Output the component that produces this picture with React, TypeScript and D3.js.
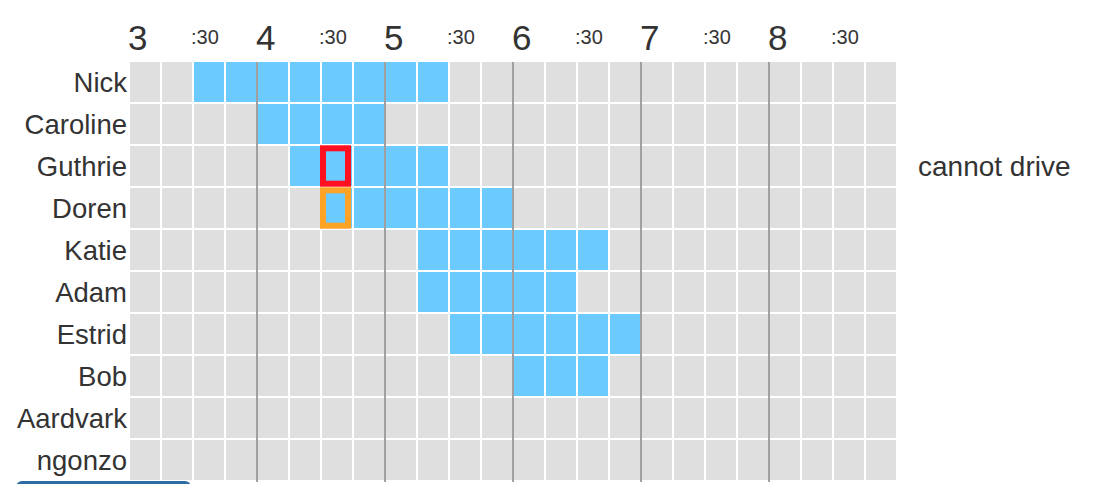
import { useEffect, useRef } from "react"
import * as d3 from 'd3';

const names = ['Nick', 'Caroline', 'Guthrie', 'Doren', 'Katie', 'Adam', 'Estrid', 'Bob', 'Aardvark', 'ngonzo'];
// available from / until (hours, pm)
const availStart = [3.5, 4, 4.25, 4.5, 5.25, 5.25, 5.5, 6, null, null];
const availEnd = [5.5, 5, 5.5, 6, 6.75, 6.5, 7, 6.75, null, null];
const slotTimes = d3.range(3, 9, 0.25);
const hourLabels = ['3', '4', '5', '6', '7', '8'];
const halfLabel = ':30';
// picked slots: [name, time, colour]
const picks = [['Guthrie', 4.5, '#ff1020'], ['Doren', 4.5, '#ffa326']];
const noteRow = 'Guthrie';
const noteText = 'cannot drive';

const W = 1106, H = 484;

const App = () => {
  const svgRef = useRef();

  useEffect(() => {
    const svg = d3.select(svgRef.current);
    svg.selectAll('*').remove();

    const x = d3.scaleLinear().domain([3, 9]).range([130, 898]);
    const y = d3.scaleBand().domain(names).range([62, 480]).paddingInner(2 / 42).paddingOuter(0);
    const cellW = x(3.25) - x(3) - 2;
    const font = "'Liberation Sans', Arial, Helvetica, sans-serif";

    const cells = [];
    names.forEach((n, i) => {
      slotTimes.forEach(t => {
        const on = availStart[i] != null && t >= availStart[i] && t < availEnd[i];
        cells.push({ n, t, on });
      });
    });

    svg.append('g').selectAll('rect')
      .data(cells)
      .enter()
      .append('rect')
      .attr('x', d => x(d.t))
      .attr('y', d => y(d.n))
      .attr('width', cellW)
      .attr('height', y.bandwidth())
      .attr('fill', d => d.on ? '#6bcbff' : '#dfdfdf');

    // hour lines
    svg.append('g').selectAll('rect')
      .data(d3.range(4, 9))
      .enter()
      .append('rect')
      .attr('x', d => x(d) - 2)
      .attr('y', 62)
      .attr('width', 2)
      .attr('height', 420)
      .attr('fill', '#a0a0a0');

    // picked boxes
    svg.append('g').selectAll('rect')
      .data(picks)
      .enter()
      .append('rect')
      .attr('x', d => x(d[1]) + 1)
      .attr('y', d => y(d[0]) + 2.3)
      .attr('width', cellW - 5)
      .attr('height', y.bandwidth() - 4.6)
      .attr('fill', 'none')
      .attr('stroke', d => d[2])
      .attr('stroke-width', 6);

    // header
    const head = svg.append('g').attr('font-family', font).attr('fill', '#333');
    head.selectAll('text.hr')
      .data(hourLabels)
      .enter()
      .append('text')
      .attr('class', 'hr')
      .attr('x', d => x(+d) - 2)
      .attr('y', 50)
      .attr('font-size', 35)
      .text(d => d);
    head.selectAll('text.half')
      .data(hourLabels)
      .enter()
      .append('text')
      .attr('class', 'half')
      .attr('x', d => x(+d + 0.5) - 3)
      .attr('y', 44)
      .attr('font-size', 20)
      .text(halfLabel);

    // names
    svg.append('g').selectAll('text')
      .data(names)
      .enter()
      .append('text')
      .attr('x', 127)
      .attr('y', d => y(d) + 29.5)
      .attr('text-anchor', 'end')
      .attr('font-family', font)
      .attr('font-size', 27.5)
      .attr('fill', '#333')
      .text(d => d);

    svg.append('text')
      .attr('x', 918)
      .attr('y', y(noteRow) + 29.5)
      .attr('font-family', font)
      .attr('font-size', 28)
      .attr('fill', '#333')
      .text(noteText);

    // button peeking in at the bottom
    svg.append('rect')
      .attr('x', 16)
      .attr('y', 481)
      .attr('width', 175)
      .attr('height', 20)
      .attr('rx', 6)
      .attr('fill', '#2e6da4');
  }, []);

  return (
    <svg ref={svgRef} width={W} height={H} style={{ position: 'absolute', left: 0, top: 0 }} />
  )
}

export default App
